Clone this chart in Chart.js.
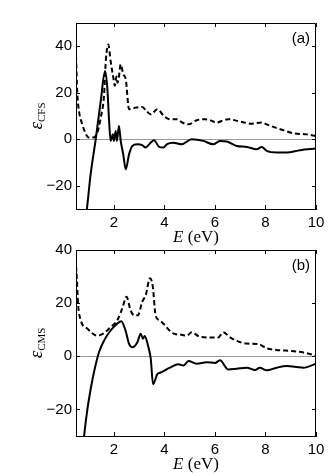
<!DOCTYPE html>
<html>
<head>
<meta charset="utf-8">
<script src="https://cdn.jsdelivr.net/npm/chart.js@4.4.1/dist/chart.umd.min.js"></script>
<style>
  html, body { margin: 0; padding: 0; background: #fff; }
  #wrap { position: relative; width: 332px; height: 476px; overflow: hidden; }
  canvas { position: absolute; left: 0; }
  #chartA { top: 0; }
  #chartB { top: 227px; }
</style>
</head>
<body>
<div id="wrap">
  <canvas id="chartA" width="332" height="249"></canvas>
  <canvas id="chartB" width="332" height="249"></canvas>
</div>
<script>
// --- Daten (a): CFS ---
const cfsReE = [0.85, 0.93, 1.08, 1.28, 1.48, 1.65, 1.74, 1.81, 1.87, 1.96, 2.0, 2.07, 2.12, 2.2, 2.27, 2.37, 2.47, 2.6, 2.73, 2.92, 3.12, 3.25, 3.46, 3.59, 3.79, 3.96, 4.09, 4.35, 4.68, 5.08, 5.54, 5.93, 6.2, 6.47, 6.86, 7.26, 7.65, 7.85, 8.05, 8.44, 8.84, 9.37, 10];
const cfsRe  = [-36, -30, -15, 0, 16.5, 29.4, 22, 7.9, -0.7, 2.1, -0.7, 3.6, -0.7, 5.7, -0.7, -6.5, -12.9, -6.5, -2.9, -2.2, -2.5, -3.6, -1.4, -0.4, -3.3, -3.6, -2.2, -1.5, -2.2, 0, -0.7, -2.2, -0.7, -1, -2.9, -3.3, -4.3, -3.3, -5, -5.7, -5.7, -4.7, -4];
const cfsImE = [0.5, 0.55, 0.62, 0.75, 0.88, 1.0, 1.2, 1.35, 1.48, 1.61, 1.68, 1.78, 1.87, 1.97, 2.04, 2.1, 2.14, 2.2, 2.27, 2.37, 2.47, 2.6, 2.86, 3.12, 3.3, 3.46, 3.72, 3.98, 4.22, 4.5, 4.7, 4.95, 5.28, 5.61, 5.8, 6.07, 6.3, 6.53, 7.0, 7.46, 7.85, 8.05, 8.31, 8.71, 9.1, 9.63, 10];
const cfsIm  = [36, 20, 12, 6.4, 2.5, 0.7, 0.8, 3, 9.3, 19, 33.7, 40.8, 33.7, 27, 23, 27, 24.3, 27, 32.2, 28, 25.8, 12.9, 13.6, 13.9, 12, 10.7, 12.9, 10, 8.6, 8.6, 7.2, 6.4, 8.2, 8.6, 8.2, 7.2, 8, 8.6, 7.6, 6.7, 7.2, 6.4, 5.3, 3.9, 2.6, 2.1, 1.4];

// --- Daten (b): CMS ---
const cmsReE = [0.78, 0.82, 0.95, 1.08, 1.24, 1.41, 1.61, 1.87, 2.13, 2.29, 2.46, 2.6, 2.73, 2.93, 3.06, 3.15, 3.22, 3.35, 3.46, 3.55, 3.72, 3.83, 4.22, 4.55, 4.75, 4.95, 5.28, 5.67, 6.0, 6.2, 6.53, 6.86, 7.26, 7.59, 7.78, 8.05, 8.44, 8.84, 9.24, 9.5, 10];
const cmsRe  = [-34, -30, -20, -12.4, -4.8, 1.5, 5.9, 9.7, 12.3, 13.2, 9.7, 4.7, 3.4, 5.3, 8.5, 6.6, 7.6, 4, -1, -10.5, -6.7, -6.2, -4.3, -3, -3.5, -1.8, -2.8, -2.2, -2.5, -1.5, -5, -4.7, -4.3, -5.2, -4.3, -5.3, -4.3, -3.7, -4, -4.3, -2.8];
const cmsImE = [0.5, 0.53, 0.58, 0.69, 0.95, 1.34, 1.61, 1.87, 2.13, 2.33, 2.5, 2.66, 2.8, 2.95, 3.12, 3.26, 3.43, 3.54, 3.65, 3.83, 4.35, 4.68, 4.88, 5.08, 5.41, 5.8, 6.13, 6.33, 6.6, 6.86, 7.26, 7.72, 8.05, 8.51, 9.04, 9.5, 10];
const cmsIm  = [34, 30, 19.9, 13.5, 10.4, 7.8, 8.7, 11, 13.5, 18, 22.4, 17.3, 15.4, 15.4, 20.5, 23, 29.4, 26.2, 15.4, 13.4, 8.6, 8.1, 7.7, 9, 7.3, 7.1, 7.1, 9, 7.1, 5.8, 4.8, 4.6, 3, 2.3, 2, 1.4, 0.3];

const xTicks = [2, 4, 6, 8, 10];
const yTicks = [-20, 0, 20, 40];

const pts = (xs, ys) => xs.map((x, i) => ({ x: x, y: ys[i] }));

// Rahmen, Innen-Ticks und Beschriftungen (MATLAB-Stil)
const rahmenPlugin = {
  id: 'rahmen',
  afterDraw(chart, args, opts) {
    const c = chart.ctx;
    const a = chart.chartArea;
    const xs = chart.scales.x;
    const ys = chart.scales.y;
    const len = 4;
    c.save();
    c.strokeStyle = '#000';
    c.lineWidth = 1;
    c.beginPath();
    c.rect(Math.round(a.left) + 0.5, Math.round(a.top) + 0.5, Math.round(a.right - a.left) - 1, Math.round(a.bottom - a.top));
    xs.ticks.forEach(t => {
      const px = Math.round(xs.getPixelForValue(t.value)) + 0.5;
      c.moveTo(px, a.bottom); c.lineTo(px, a.bottom - len);
      c.moveTo(px, a.top); c.lineTo(px, a.top + len);
    });
    ys.ticks.forEach(t => {
      const py = Math.round(ys.getPixelForValue(t.value)) + 0.5;
      c.moveTo(a.left, py); c.lineTo(a.left + len, py);
      c.moveTo(a.right, py); c.lineTo(a.right - len, py);
    });
    c.stroke();

    // Panel-Kennung
    c.fillStyle = '#000';
    c.font = '15px "Liberation Sans", Arial, sans-serif';
    c.textAlign = 'right';
    c.textBaseline = 'alphabetic';
    c.fillText(opts.tag, a.right - 6, a.top + 20);

    // x-Titel: E (eV)
    const cx = (a.left + a.right) / 2;
    const by = a.bottom + 33;
    c.font = 'italic 17px "Liberation Serif", "DejaVu Serif", serif';
    const wE = c.measureText('E').width;
    c.font = '17px "Liberation Serif", "DejaVu Serif", serif';
    const wR = c.measureText(' (eV)').width;
    let x0 = cx - (wE + wR) / 2;
    c.textAlign = 'left';
    c.font = 'italic 17px "Liberation Serif", "DejaVu Serif", serif';
    c.fillText('E', x0, by);
    c.font = '17px "Liberation Serif", "DejaVu Serif", serif';
    c.fillText(' (eV)', x0 + wE, by);

    // y-Titel: epsilon mit Index
    const cy = (a.top + a.bottom) / 2;
    c.translate(42, cy);
    c.rotate(-Math.PI / 2);
    c.font = 'italic 19px "Liberation Serif", "DejaVu Serif", serif';
    const wEps = c.measureText('\u03b5').width;
    c.font = '11px "Liberation Serif", "DejaVu Serif", serif';
    const wSub = c.measureText(opts.sub).width;
    const sx = -(wEps + wSub) / 2;
    c.font = 'italic 19px "Liberation Serif", "DejaVu Serif", serif';
    c.fillText('\u03b5', sx, 0);
    c.font = '11px "Liberation Serif", "DejaVu Serif", serif';
    c.fillText(opts.sub, sx + wEps, 3);
    c.restore();
  }
};

function baueChart(id, reE, re, imE, im, yMax, tag, sub) {
  const ctx = document.getElementById(id).getContext('2d');
  return new Chart(ctx, {
    type: 'line',
    data: {
      datasets: [
        {
          label: 'Re',
          data: pts(reE, re),
          borderColor: '#000',
          borderWidth: 2,
          pointRadius: 0,
          cubicInterpolationMode: 'monotone',
          fill: false
        },
        {
          label: 'Im',
          data: pts(imE, im),
          borderColor: '#000',
          borderWidth: 2,
          borderDash: [5, 3],
          pointRadius: 0,
          cubicInterpolationMode: 'monotone',
          fill: false
        }
      ]
    },
    options: {
      responsive: false,
      animation: false,
      layout: { padding: { top: 23, right: 16, left: 0, bottom: 0 } },
      scales: {
        x: {
          type: 'linear',
          min: 0.5,
          max: 10,
          afterBuildTicks: s => { s.ticks = xTicks.map(v => ({ value: v })); },
          afterFit: s => { s.height = 40; },
          grid: { display: false, drawTicks: false },
          border: { display: true, color: '#000', width: 1 },
          ticks: {
            color: '#000',
            padding: 5,
            maxRotation: 0,
            font: { family: '"Liberation Sans", Arial, sans-serif', size: 15 }
          }
        },
        y: {
          type: 'linear',
          min: -30,
          max: yMax,
          afterBuildTicks: s => { s.ticks = yTicks.map(v => ({ value: v })); },
          afterFit: s => { s.width = 76; },
          grid: {
            drawTicks: false,
            color: c => (c.tick && c.tick.value === 0 ? '#9a9a9a' : 'rgba(0,0,0,0)'),
            lineWidth: 1
          },
          border: { display: true, color: '#000', width: 1 },
          ticks: {
            color: '#000',
            padding: 4,
            font: { family: '"Liberation Sans", Arial, sans-serif', size: 15 },
            callback: v => (v < 0 ? '\u2212' + Math.abs(v) : String(v))
          }
        }
      },
      plugins: {
        legend: { display: false },
        tooltip: { enabled: false },
        rahmen: { tag: tag, sub: sub }
      }
    },
    plugins: [rahmenPlugin]
  });
}

baueChart('chartA', cfsReE, cfsRe, cfsImE, cfsIm, 50, '(a)', 'CFS');
baueChart('chartB', cmsReE, cmsRe, cmsImE, cmsIm, 40, '(b)', 'CMS');
</script>
</body>
</html>
